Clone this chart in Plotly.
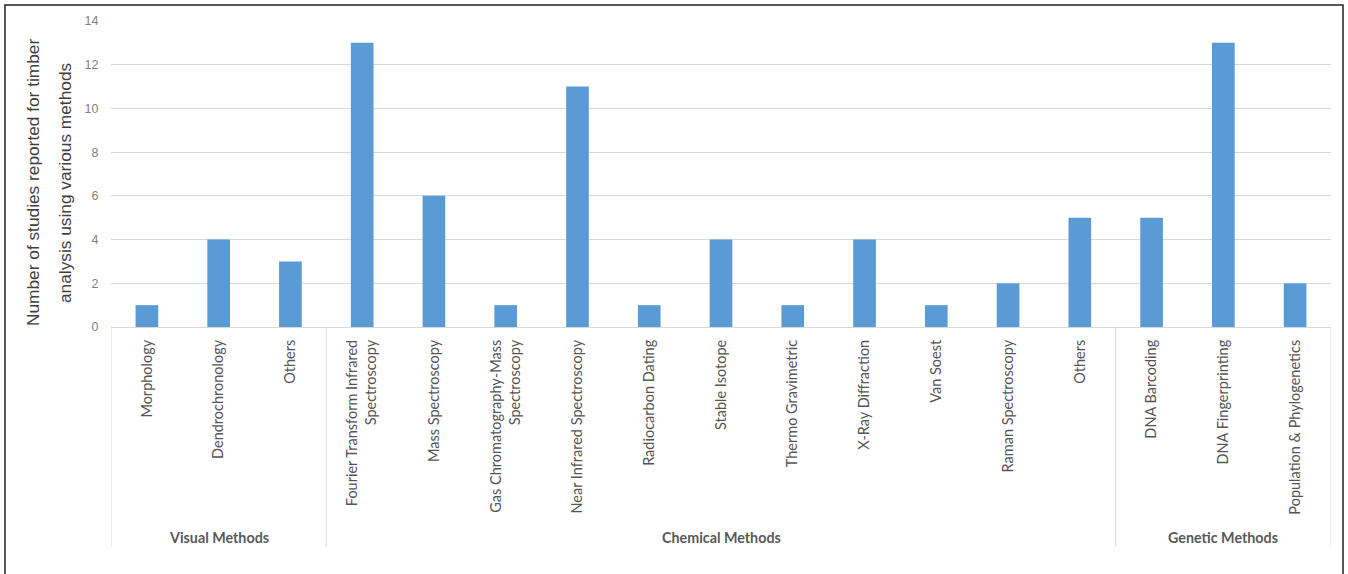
import plotly.graph_objects as go

methods = ["Morphology", "Dendrochronology", "Others",
           "Fourier Transform Infrared<br>Spectroscopy", "Mass Spectroscopy",
           "Gas Chromatography-Mass<br>Spectroscopy", "Near Infrared Spectroscopy",
           "Radiocarbon Dating", "Stable Isotope", "Thermo Gravimetric",
           "X-Ray Diffraction", "Van Soest", "Raman Spectroscopy", "Others",
           "DNA Barcoding", "DNA Fingerprinting", "Population & Phylogenetics"]
studies = [1, 4, 3, 13, 6, 1, 11, 1, 4, 1, 4, 1, 2, 5, 5, 13, 2]
groups = ["Visual Methods", "Chemical Methods", "Genetic Methods"]
group_sizes = [3, 11, 3]
y_title_lines = ["Number of studies reported for timber", "analysis using various methods"]

W, H = 1348, 574
L, R, T, B = 111, 17, 21, 247
pw, ph = W - L - R, H - T - B

def px(xp):
    return (xp - L) / pw

def py(yp):
    return (H - B - yp) / ph

positions = list(range(len(methods)))

fig = go.Figure(go.Bar(
    x=positions, y=studies, marker_color="#5b9bd5", marker_line_width=0,
    hoverinfo="x+y"))

shapes = []
annotations = []
start = 0
bounds = [-0.5]
for g, n in zip(groups, group_sizes):
    mid = start + (n - 1) / 2
    annotations.append(dict(x=mid, xref="x", y=py(537), yref="paper", text="<b>%s</b>" % g,
                            showarrow=False, xanchor="center", yanchor="middle",
                            font=dict(family="Lato", size=14.3, color="#595959")))
    start += n
    bounds.append(start - 0.5)
for b in bounds:
    shapes.append(dict(type="line", xref="x", yref="paper", x0=b, x1=b, y0=0, y1=py(547),
                       line=dict(color="#d9d9d9", width=1)))

# outer frame
shapes.append(dict(type="rect", xref="paper", yref="paper", x0=px(5), x1=px(1343),
                   y0=py(5), y1=py(585), line=dict(color="#222222", width=1.5),
                   fillcolor="rgba(0,0,0,0)", layer="above"))

for xpix, line in zip([33, 65], y_title_lines):
    annotations.append(dict(x=px(xpix), xref="paper", y=py(183), yref="paper", text=line,
                            textangle=-90, showarrow=False, xanchor="center", yanchor="middle",
                            font=dict(family="Liberation Sans", size=17.3, color="#404040")))

fig.update_layout(
    width=W, height=H, margin=dict(l=L, r=R, t=T, b=B),
    paper_bgcolor="white", plot_bgcolor="white",
    bargap=0.684, showlegend=False,
    shapes=shapes, annotations=annotations,
    xaxis=dict(range=[-0.5, len(methods) - 0.5], tickmode="array", tickvals=positions,
               ticktext=methods, tickangle=-90, showgrid=False, zeroline=False,
               showline=True, linecolor="#d9d9d9", linewidth=1,
               ticks="outside", ticklen=6, tickcolor="rgba(0,0,0,0)",
               tickfont=dict(family="Lato", size=14.5, color="#555555")),
    yaxis=dict(range=[0, 14], dtick=2, showgrid=True, gridcolor="#d9d9d9", gridwidth=1,
               zeroline=False, showline=False,
               ticks="outside", ticklen=9, tickcolor="rgba(0,0,0,0)",
               tickfont=dict(family="Liberation Sans", size=12.5, color="#7f7f7f")),
)

fig.write_html("out.html")
